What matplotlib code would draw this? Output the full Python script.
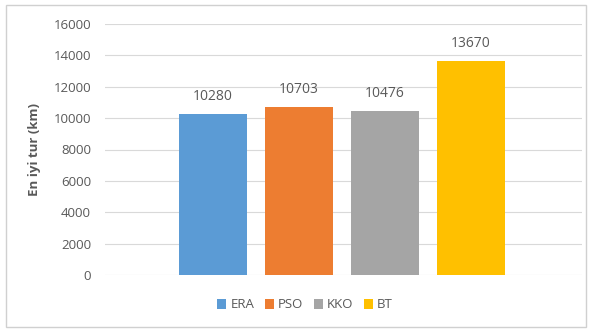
import matplotlib
matplotlib.use("Agg")
import matplotlib.pyplot as plt
from matplotlib.patches import Rectangle, Patch

# Best tour length per algorithm
algorithms = ["ERA", "PSO", "KKO", "BT"]
best_tour = [10280, 10703, 10476, 13670]
colors = ["#5B9BD5", "#ED7D31", "#A5A5A5", "#FFC000"]
y_ticks = [0, 2000, 4000, 6000, 8000, 10000, 12000, 14000, 16000]

plt.rcParams["font.family"] = ["Open Sans", "DejaVu Sans"]
text_color = "#595959"

fig = plt.figure(figsize=(5.93, 3.29), dpi=100)
fig.patch.set_facecolor("white")

# light frame around the chart area
fig.patches.append(Rectangle((6 / 593, 2 / 329), 580 / 593, 322 / 329,
                             transform=fig.transFigure, fill=False,
                             edgecolor="#D0D0D0", linewidth=1.0))

ax = fig.add_axes([105 / 593, 1 - 275 / 329, 477 / 593, 251 / 329])
x = list(range(len(algorithms)))
bars = ax.bar(x, best_tour, width=0.79, color=colors, zorder=3)

for xi, v in zip(x, best_tour):
    ax.annotate(f"{v}", (xi, v), xytext=(0, 7), textcoords="offset points",
                ha="center", va="bottom", fontsize=10, color=text_color)

ax.set_xlim(-1.256, 4.29)
ax.set_ylim(0, 16000)
ax.set_yticks(y_ticks)
ax.set_yticklabels([str(t) for t in y_ticks], fontsize=9.5, color=text_color)
ax.set_xticks([])
ax.tick_params(axis="y", length=0, pad=10)
ax.grid(axis="y", color="#D9D9D9", linewidth=0.8, zorder=0)
for s in ax.spines.values():
    s.set_visible(False)

ax.set_ylabel("En iyi tur (km)", fontsize=9.5, fontweight="bold", color=text_color,
              labelpad=9)

handles = [Patch(facecolor=c, edgecolor="none") for c in colors]
fig.legend(handles, algorithms, loc="center", bbox_to_anchor=(305 / 593, 1 - 305 / 329),
           ncol=4, frameon=False, fontsize=9.5, handlelength=0.7, handleheight=0.7,
           handletextpad=0.3, columnspacing=0.8, labelcolor=text_color)

fig.savefig("out.png", dpi=100, facecolor="white")
